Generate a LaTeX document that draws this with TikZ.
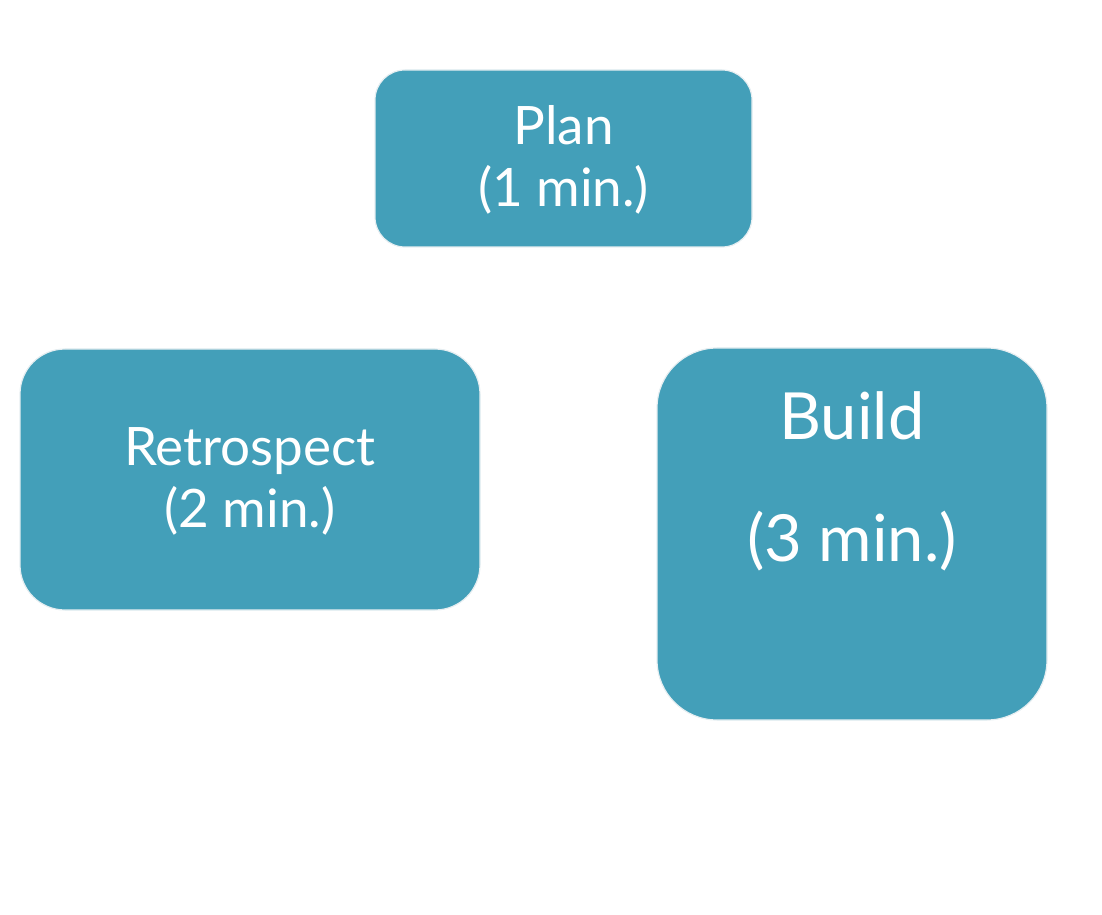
\documentclass[tikz,border=0pt]{standalone}
\usepackage{fontspec}
\setmainfont{Lato}
\definecolor{stageteal}{HTML}{439FB9}
\definecolor{stageedge}{HTML}{E6EEF1}
\tikzset{
  stagebox/.style={fill=stageteal, draw=stageedge, line width=1.2pt, inner sep=0pt},
  stagetext/.style={text=white, align=center, inner sep=0pt},
}
\begin{document}
\begin{tikzpicture}[x=1pt, y=1pt,
    every node/.style={font=\fontsize{53}{62}\selectfont},]
  \useasboundingbox (0,0) rectangle (1102,914);
  % stage boxes
  \node[stagebox, rounded corners=30pt, minimum width=377pt, minimum height=177pt] (plan) at (563.5,755.5) {};
  \node[stagebox, rounded corners=45pt, minimum width=460pt, minimum height=261pt] (retro) at (250,434.5) {};
  \node[stagebox, rounded corners=60pt, minimum width=390pt, minimum height=372pt] (build) at (852,380) {};
  % labels
  \node[stagetext] (plantext) at (563.5,754) {Plan\\(1 min.)};
  \node[stagetext] (retrotext) at (250,433) {Retrospect\\(2 min.)};
  \node[stagetext, font=\fontsize{65}{122}\selectfont] (buildtext) at (852,433) {Build\\(3 min.)};
\end{tikzpicture}
\end{document}
